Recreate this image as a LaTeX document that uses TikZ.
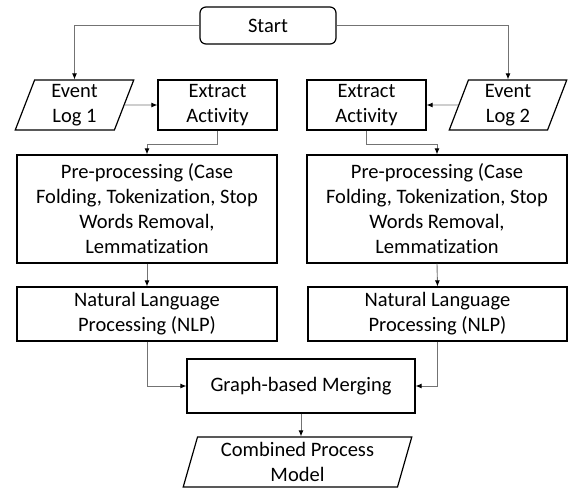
\documentclass[tikz,border=0pt]{standalone}
\usepackage{fontspec}
\setmainfont[Ligatures={NoCommon,NoRequired,NoContextual}]{Carlito}
\usetikzlibrary{shapes.geometric, arrows.meta, positioning}

\begin{document}
\begin{tikzpicture}[x=1pt, y=-1pt,
      box/.style={draw, line width=1.2pt, align=center, inner sep=1pt, font=\fontsize{20.5}{25}\selectfont},
      datain/.style={box, trapezium, trapezium stretches=true, trapezium left angle=75, trapezium right angle=105},
      arr/.style={-{Latex[length=6pt, width=5pt, color=black]}, draw=black!55, line width=0.9pt}
    ]
      \useasboundingbox (0,0) rectangle (568,488);

      \node[box, rounded corners=6pt, minimum width=136pt, minimum height=37pt] (start) at (268,25.5) {Start};

      \node[datain, minimum width=119pt, minimum height=50pt] (log1) at (74.5,105) {Event\\Log 1};
      \node[datain, minimum width=118pt, minimum height=50pt] (log2) at (508,105) {Event\\Log 2};
      \node[box, minimum width=119pt, minimum height=50pt] (ext1) at (217.5,105) {Extract\\Activity};
      \node[box, minimum width=119pt, minimum height=50pt] (ext2) at (366.5,105) {Extract\\Activity};

      \node[box, minimum width=260pt, minimum height=108pt] (pre1) at (147,209) {Pre-processing (Case\\Folding, Tokenization, Stop\\Words Removal,\\Lemmatization};
      \node[box, minimum width=260pt, minimum height=108pt] (pre2) at (437,209) {Pre-processing (Case\\Folding, Tokenization, Stop\\Words Removal,\\Lemmatization};

      \node[box, minimum width=260pt, minimum height=54pt] (nlp1) at (147,314) {Natural Language\\Processing (NLP)};
      \node[box, minimum width=259pt, minimum height=54pt] (nlp2) at (437.5,314) {Natural Language\\Processing (NLP)};

      \node[box, minimum width=228pt, minimum height=54pt] (merge) at (301,386) {Graph-based Merging};
      \node[datain, minimum width=229pt, minimum height=50pt] (comb) at (297.5,462) {Combined Process\\Model};

      \draw[arr] (start.west) -| (log1.north);
      \draw[arr] (start.east) -| (log2.north);
      \draw[arr] (log1.east) -- (ext1.west);
      \draw[arr] (log2.west) -- (ext2.east);
      \draw[arr] (ext1.south) -- ++(0,14) -| (pre1.north);
      \draw[arr] (ext2.south) -- ++(0,14) -| (pre2.north);
      \draw[arr] (pre1.south) -- (nlp1.north);
      \draw[arr] (pre2.south) -- (nlp2.north);
      \draw[arr] (nlp1.south) |- (merge.west);
      \draw[arr] (nlp2.south) |- (merge.east);
      \draw[arr] (merge.south) -- (merge.south |- comb.north);
    \end{tikzpicture}
\end{document}
